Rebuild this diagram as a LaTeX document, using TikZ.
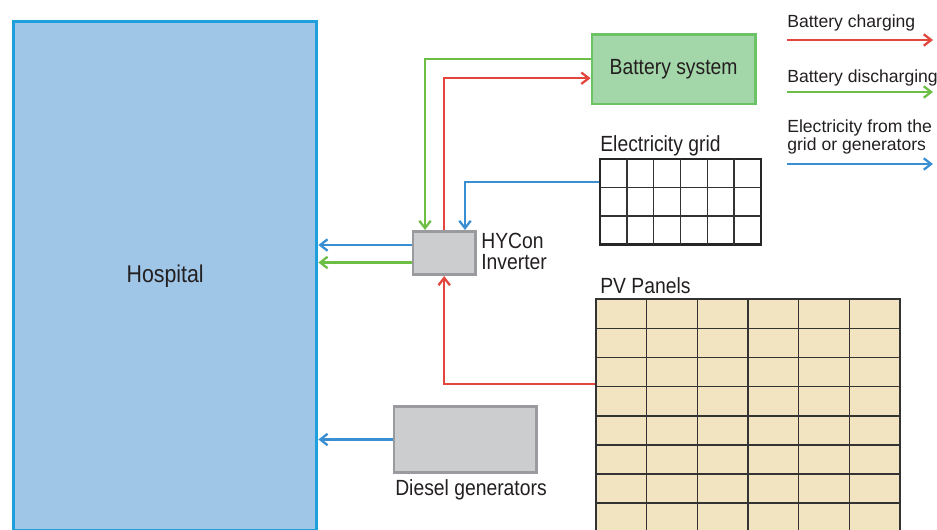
\documentclass[tikz,border=0pt]{standalone}
\usepackage{fontspec}
\setmainfont{Liberation Sans}[FakeStretch=0.88]
\newfontfamily\legendfont{Liberation Sans}
\usetikzlibrary{arrows.meta}

\definecolor{hospfill}{HTML}{A0C6E7}
\definecolor{hospline}{HTML}{1EA0DC}
\definecolor{batfill}{HTML}{A3D6A8}
\definecolor{batline}{HTML}{6CC366}
\definecolor{boxgray}{HTML}{CCCDCF}
\definecolor{boxline}{HTML}{9A9B9E}
\definecolor{pvfill}{HTML}{F2E4C0}
\definecolor{chargered}{HTML}{E2463C}
\definecolor{dischgreen}{HTML}{6DBE45}
\definecolor{supplyblue}{HTML}{3A8FD3}
\definecolor{inktext}{HTML}{231F20}

\newcommand{\diagfont}{\fontsize{12.5}{11.9}\selectfont}
\newcommand{\keyfont}{\legendfont\fontsize{10}{10.2}\selectfont}

\begin{document}
\begin{tikzpicture}[x=0.02cm, y=-0.02cm,
  every node/.style={text=inktext},
  flow/.style={line width=1.3pt, -{Straight Barb[length=4.2pt,width=6.5pt]}},
  charge/.style={flow, chargered},
  discharge/.style={flow, dischgreen},
  supply/.style={flow, supplyblue},
  lbl/.style={font=\diagfont, inner sep=0},
  keylbl/.style={font=\keyfont, inner sep=0, anchor=base west},
  cellline/.style={black!80, line width=0.9pt}]

\useasboundingbox (0,0) rectangle (937,529);

% boxes
\node[draw=hospline, fill=hospfill, line width=1.9pt, minimum width=6.06cm, minimum height=10.19cm,
      font=\fontsize{13.8}{16}\selectfont] (hosp) at (165.2,276.2) {Hospital};

\node[draw=batline, fill=batfill, line width=1.3pt, minimum width=3.276cm, minimum height=1.386cm,
      font=\diagfont] (bat) at (673.6,69.2) {Battery system};

\node[draw=boxline, fill=boxgray, line width=1.5pt, minimum width=1.246cm, minimum height=0.868cm] (inv) at (444.2,253) {};
\node[lbl, anchor=west, align=left] (invlabel) at (481,251) {HYCon\\Inverter};

\node[draw=boxline, fill=boxgray, line width=1.5pt, minimum width=2.856cm, minimum height=1.332cm] (dsl) at (465.4,439.5) {};
\node[lbl, anchor=base] (dsllabel) at (471,495) {Diesel generators};

% electricity grid
\node[draw=black!85, fill=white, line width=1.6pt, minimum width=3.22cm, minimum height=1.714cm] (grd) at (680.5,201.8) {};
\foreach \i in {1,...,5}
  \draw[cellline] (600+\i*26.83,159) -- (600+\i*26.83,244.7);
\foreach \j in {1,2}
  \draw[cellline] (600,159+\j*28.57) -- (761,159+\j*28.57);
\node[lbl, anchor=base west] (grdlabel) at (600,151) {Electricity grid};

% PV panels
\node[draw=black!80, fill=pvfill, line width=0.9pt, minimum width=6.08cm, minimum height=5.238cm] (pv) at (748,430.2) {};
\foreach \i in {1,...,5}
  \draw[cellline] (596+\i*50.67,299.3) -- (596+\i*50.67,561.2);
\foreach \j in {1,...,8}
  \draw[cellline] (596,299.3+\j*29.1) -- (900,299.3+\j*29.1);
\node[lbl, anchor=base west] (pvlabel) at (600,293) {PV Panels};

% flows
\draw[discharge] ([yshift=0.21cm]bat.west) -| ([xshift=-0.384cm]inv.north);
\draw[charge] (inv.north) |- ([yshift=-0.18cm]bat.west);
\draw[supply] ([yshift=0.40cm]grd.west) -| ([xshift=0.416cm]inv.north);
\draw[supply] ([yshift=0.16cm]inv.west) coordinate (invb) -- (invb -| hosp.east);
\draw[discharge] ([yshift=-0.19cm]inv.west) coordinate (invg) -- (invg -| hosp.east);
\draw[charge] ([yshift=0.93cm]pv.west) -| (inv.south);
\draw[supply] (dsl.west) -- (dsl.west -| hosp.east);

% legend
\node[keylbl] (key1) at (787,27) {Battery charging};
\node[keylbl] (key2) at (787,82) {Battery discharging};
\node[keylbl, anchor=north west, align=left] (key3) at (787,119) {Electricity from the\\grid or generators};

\coordinate (k1a) at (787,40);  \coordinate (k1b) at (933,40);
\coordinate (k2a) at (787,92);  \coordinate (k2b) at (933,92);
\coordinate (k3a) at (787,164); \coordinate (k3b) at (933,164);
\draw[charge] (k1a) -- (k1b);
\draw[discharge] (k2a) -- (k2b);
\draw[supply] (k3a) -- (k3b);

\end{tikzpicture}
\end{document}
